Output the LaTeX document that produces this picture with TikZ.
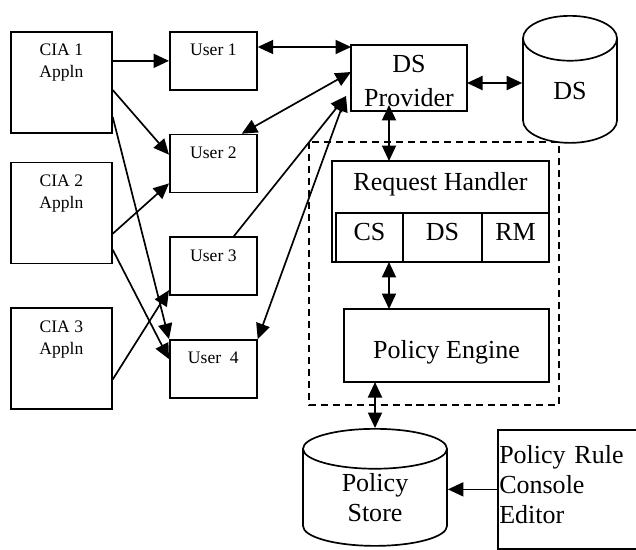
\documentclass[tikz,border=0pt]{standalone}
\usepackage{fontspec}
\setmainfont{Liberation Serif}
\usetikzlibrary{arrows.meta, positioning, shapes.geometric, calc}

\begin{document}
\begin{tikzpicture}[
    x=0.025cm, y=-0.025cm, line width=1.2pt,
    app/.style={draw, minimum width=2.525cm, inner sep=0pt, align=center,
                text height=1.145cm, text depth=1.38cm,
                font=\fontsize{12.5}{15.5}\selectfont},
    user/.style={draw, minimum width=2.175cm, inner sep=0pt,
                 text height=0.6cm, text depth=0.85cm,
                 font=\fontsize{12.5}{15}\selectfont},
    box/.style={draw, inner sep=0pt, outer sep=0pt,
                font=\fontsize{18.5}{21}\selectfont},
    db/.style={draw, cylinder, shape border rotate=90, aspect=#1,
               inner sep=0pt, align=center,
               font=\fontsize{18.5}{21.3}\selectfont},
    frame/.style={draw, dash pattern=on 5pt off 3.5pt},
    arr/.style={-{Triangle[length=11pt, width=10pt]}},
    dbl/.style={{Triangle[length=11pt, width=10pt]}-{Triangle[length=11pt, width=10pt]}},
    node distance=0.5cm
  ]
  \useasboundingbox (0,0) rectangle (636,550);

  % Client applications
  \node[app, anchor=north west] (cia1) at (10,31) {CIA 1\\Appln};
  \node[app, below=0.7cm of cia1] (cia2) {CIA 2\\Appln};
  \node[app, below=1.075cm of cia2] (cia3) {CIA 3\\Appln};

  % Users
  \node[user, anchor=north west] (user1) at (169,31) {User 1};
  \node[user, below=1.075cm of user1] (user2) {User 2};
  \node[user, below=1.075cm of user2] (user3) {User 3};
  \node[user, below=1.075cm of user3] (user4) {User\ \ 4};

  % Directory service side
  \node[box, minimum width=2.9cm, align=center, text height=1.547cm,
        text depth=0.103cm, font=\fontsize{18.5}{24.8}\selectfont,
        anchor=north west] (dsp) at (351,45) {DS\\Provider};
  \node[db=1.35, minimum width=2.35cm, minimum height=3.175cm,
        anchor=north] (ds) at (570,15) {DS};

  % Request handler with its three parts
  \node[box, minimum width=5.425cm, text height=0.725cm, text depth=1.8cm,
        anchor=north west] (rh) at (332,161) {Request Handler};
  \node[box, minimum width=1.675cm, text height=0.675cm, text depth=0.55cm,
        anchor=south west] (cs) at ($(rh.south west)+(4,0)$) {CS};
  \node[box, minimum width=1.975cm, text height=0.675cm, text depth=0.55cm,
        right=0pt of cs] (dsc) {DS};
  \node[box, minimum width=1.675cm, text height=0.675cm, text depth=0.55cm,
        right=0pt of dsc] (rm) {RM};

  % Policy engine
  \node[box, minimum width=5.125cm, text height=1.225cm, text depth=0.6cm,
        below=1.175cm of rh.south east, anchor=north east] (pe) {Policy Engine};
  \draw[frame] ($(rh.north west)+(-23,-19)$) rectangle ($(pe.south east)+(10,23)$);

  % Policy storage and editor
  \node[db=0.6, minimum width=3.6cm, minimum height=2.925cm,
        text height=34pt, text depth=0pt, anchor=north] (store)
    at (375,428) {Policy\\Store};
  \node[draw, inner sep=0pt, inner xsep=1pt, text width=3.4cm, align=left,
        text height=0.85cm, text depth=2.125cm,
        font=\fontsize{18.5}{21.3}\selectfont,
        anchor=north west] (editor) at (497,429) {Policy Rule\\Console\\Editor};

  % Applications to users
  \draw[arr] (cia1.east |- user1.west) -- (user1.west);
  \draw[arr] ($(cia1.north east)+(0,59)$) -- ($(user2.north west)+(0,21)$);
  \draw[arr] ($(cia1.north east)+(0,86)$) -- (user4.north west);
  \draw[arr] ($(cia2.north east)+(0,72)$) -- ($(user2.south west)+(0,-10)$);
  \draw[arr] ($(cia2.north east)+(0,88)$) -- ($(user4.north west)+(0,20)$);
  \draw[arr] ($(cia3.north east)+(0,72)$) -- ($(user3.south west)+(0,-6)$);

  % Users to provider
  \draw[dbl] ($(user1.north east)+(0,16)$) -- ($(dsp.north west)+(0,2)$);
  \draw[dbl] ($(user2.north east)+(-16,0)$) -- ($(dsp.north west)+(0,27)$);
  \draw[arr] ($(user3.north east)+(-24,0)$) -- ($(dsp.south west)+(-5,-15)$);
  \draw[dbl] (user4.north east) -- ($(dsp.south west)+(-5,-15)$);

  % Provider, handler, engine, store
  \draw[dbl] ($(dsp.east)+(0,5)$) coordinate (p) -- (p -| ds.west);
  \draw[dbl] ($(rh.north west)+(57,-56)$) -- ($(rh.north west)+(57,0)$);
  \draw[dbl] ($(rh.south west)+(57,0)$) -- ($(pe.north west)+(45,0)$);
  \draw[dbl] (store.north |- pe.south) -- (store.north);
  \draw[arr] (editor.west) -- (editor.west -| store.east);

\end{tikzpicture}
\end{document}
